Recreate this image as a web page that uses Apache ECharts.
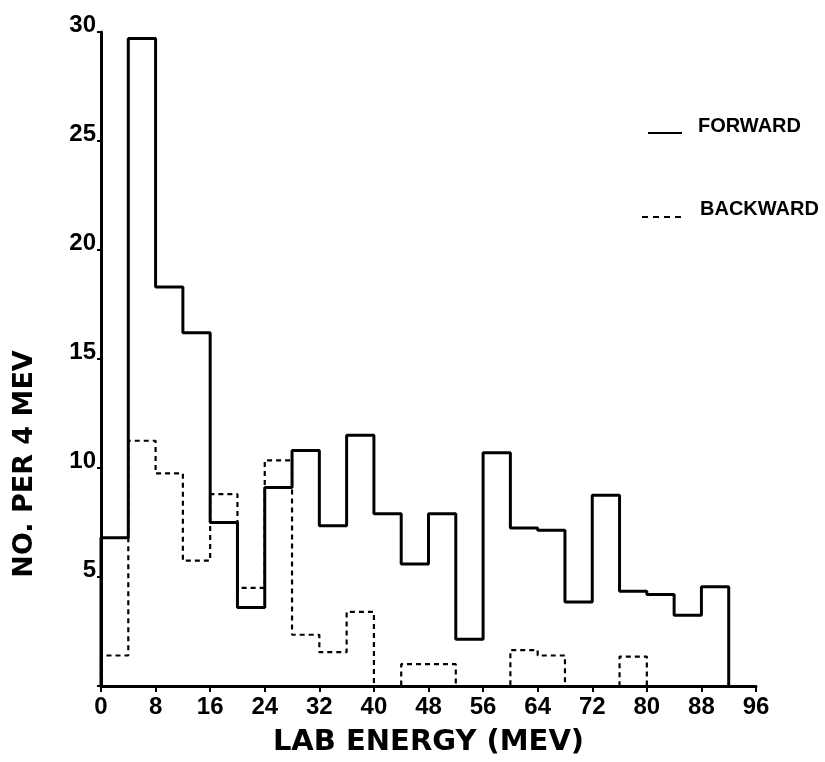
<!DOCTYPE html>
<html>
<head>
<meta charset="utf-8">
<script src="https://cdn.jsdelivr.net/npm/echarts@6/dist/echarts.min.js"></script>
<style>
html,body{margin:0;padding:0;background:#fff;}
#chart{width:825px;height:762px;}
</style>
</head>
<body>
<div id="chart"></div>
<script>
// Bin left edges (MeV), 4 MeV bins
const forwardEdges = [0,4,8,12,16,20,24,28,32,36,40,44,48,52,56,60,64,68,72,76,80,84,88,92];
const forwardCounts = [6.8,29.7,18.3,16.2,7.5,3.6,9.1,10.8,7.35,11.5,7.9,5.6,7.9,2.15,10.7,7.25,7.15,3.85,8.75,4.35,4.2,3.25,4.55];

const backwardEdges = [0,4,8,12,16,20,24,28,32,36,40,44,48,52,56,60,64,68,72,76,80];
const backwardCounts = [1.4,11.25,9.75,5.75,8.8,4.5,10.35,2.35,1.55,3.4,0,1.0,1.0,0,0,1.65,1.4,0,0,1.35];

const xTicks = [0,8,16,24,32,40,48,56,64,72,80,88,96];
const yTicks = [0,5,10,15,20,25,30];

const legendNames = ['FORWARD','BACKWARD'];
const xTitle = 'LAB ENERGY (MEV)';
const yTitle = 'NO. PER 4 MEV';

function histPoints(edges, vals){
  const pts = [[edges[0], 0]];
  vals.forEach((v,i)=>pts.push([edges[i], v]));
  const last = edges[edges.length-1];
  pts.push([last, vals[vals.length-1]]);
  pts.push([last, 0]);
  return pts;
}

const chart = echarts.init(document.getElementById('chart'), null, {renderer:'canvas'});
const tickFont = 'Liberation Sans';
chart.setOption({
  backgroundColor:'#ffffff',
  animation:false,
  grid:{left:101,right:69,top:32,bottom:73,containLabel:false},
  xAxis:{
    type:'value', min:xTicks[0], max:xTicks[xTicks.length-1], interval:8,
    name:xTitle, nameLocation:'middle', nameGap:42,
    nameTextStyle:{fontFamily:'DejaVu Sans',fontWeight:'bold',fontSize:29,color:'#000'},
    axisLine:{show:true,onZero:false,lineStyle:{color:'#000',width:3}},
    axisTick:{show:true,inside:false,length:6,lineStyle:{color:'#000',width:2}},
    axisLabel:{fontFamily:tickFont,fontWeight:'bold',fontSize:24,color:'#000',margin:9},
    splitLine:{show:false}
  },
  yAxis:{
    type:'value', min:yTicks[0], max:yTicks[yTicks.length-1], interval:5,
    axisLine:{show:true,onZero:false,lineStyle:{color:'#000',width:3}},
    axisTick:{show:true,inside:false,length:4,lineStyle:{color:'#000',width:2}},
    axisLabel:{fontFamily:tickFont,fontWeight:'bold',fontSize:24,color:'#000',margin:5,
      verticalAlign:'bottom', lineHeight:14,
      formatter:v=> v===0 ? '' : String(v)},
    splitLine:{show:false}
  },
  series:[
    {
      name:legendNames[0], type:'line', step:'end', symbol:'none',
      data:histPoints(forwardEdges, forwardCounts),
      lineStyle:{color:'#000',width:3,type:'solid'},
      z:3
    },
    {
      name:legendNames[1], type:'line', step:'end', symbol:'none',
      data:histPoints(backwardEdges, backwardCounts),
      lineStyle:{color:'#000',width:2.2,type:[5,4]},
      z:2
    }
  ],
  graphic:[
    {type:'text', x:25, y:464, rotation:Math.PI/2,
      style:{text:yTitle,fontFamily:'DejaVu Sans',fontWeight:'bold',fontSize:27,fill:'#000',
        textAlign:'center',textVerticalAlign:'middle'}},
    {type:'line', shape:{x1:648,y1:133,x2:682,y2:133}, style:{stroke:'#000',lineWidth:2}},
    {type:'text', left:698, top:116, style:{text:legendNames[0],fontFamily:tickFont,fontWeight:'bold',fontSize:20,fill:'#000'}},
    {type:'line', shape:{x1:642,y1:217,x2:683,y2:217}, style:{stroke:'#000',lineWidth:2,lineDash:[6,5]}},
    {type:'text', left:700, top:199, style:{text:legendNames[1],fontFamily:tickFont,fontWeight:'bold',fontSize:20,fill:'#000'}}
  ]
});
</script>
</body>
</html>
